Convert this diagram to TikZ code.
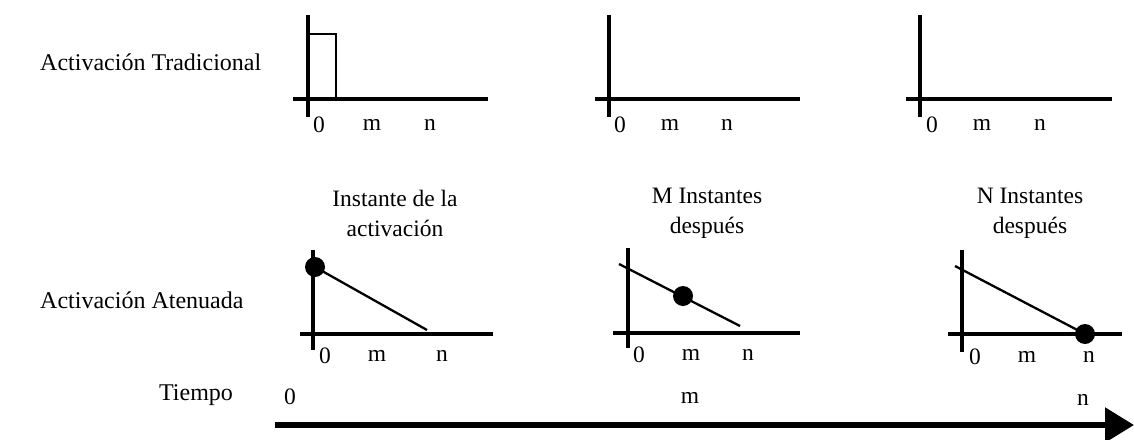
\documentclass[tikz,border=0pt]{standalone}
\usepackage{fontspec}
\setmainfont{Liberation Serif}
\usetikzlibrary{arrows.meta}
\begin{document}
\begin{tikzpicture}[x=1pt,y=-1pt,
  txt/.style={font=\fontsize{24}{28}\selectfont, inner sep=0pt},
  tick/.style={font=\fontsize{23.5}{27}\selectfont, inner sep=0pt},
  axis/.style={line width=3.8pt, line cap=butt},
  slope/.style={line width=2.3pt},
  dot/.style={circle, fill=black, minimum size=20pt, inner sep=0pt},
  ttl/.style={font=\fontsize{23.5}{30}\selectfont, align=center, inner sep=0pt}]
\useasboundingbox (0,0) rectangle (1134,439);
% left labels
\node[txt, anchor=west] (lt) at (40,62) {Activación Tradicional};
\node[txt, anchor=west] (la) at (40,300) {Activación Atenuada};
% top panels
\foreach \i/\vx/\hs/\he/\lz/\lm/\ln in {1/308/293/488/319/372/430, 2/609/595/800/620/670/727, 3/920/906/1112/932/982/1040}{
  \draw[axis] (\vx,15) -- (\vx,117);
  \draw[axis] (\hs,99) -- (\he,99);
  \node[tick] (tz\i) at (\lz,125) {0};
  \node[tick] (tm\i) at (\lm,125) {m};
  \node[tick] (tn\i) at (\ln,125) {n};
}
\draw[line width=1.6pt] (308,34) -- (336,34) -- (336,99);
% titles
\node[ttl] (t1) at (395,213) {Instante de la\\activación};
\node[ttl] (t2) at (707,213) {M Instantes\\después};
\node[ttl] (t3) at (1030,213) {N Instantes\\después};
% bottom panel 1
\draw[axis] (313,250) -- (313,350);
\draw[axis] (300,334) -- (493,334);
\node[dot] (d1) at (315,267) {};
\coordinate (e1) at (427,330);
\draw[slope] (d1.center) -- (e1);
\node[tick] at (325,356) {0};
\node[tick] at (377,356) {m};
\node[tick] at (442,356) {n};
% bottom panel 2
\draw[axis] (628,248) -- (628,348);
\draw[axis] (613,333) -- (800,333);
\coordinate (s2) at (619,264);
\coordinate (e2) at (740,326);
\draw[slope] (s2) -- (e2);
\node[dot] (d2) at (683,296) {};
\node[tick] at (639,355) {0};
\node[tick] at (691,355) {m};
\node[tick] at (748,355) {n};
% bottom panel 3
\draw[axis] (962,250) -- (962,352);
\draw[axis] (948,334) -- (1122,334);
\coordinate (s3) at (955,266);
\node[dot] (d3) at (1085,334) {};
\draw[slope] (s3) -- (d3.center);
\node[tick] at (975,357) {0};
\node[tick] at (1027,357) {m};
\node[tick] at (1089,357) {n};
% time axis
\node[txt] (tiempo) at (196,395) {Tiempo};
\node[tick] (z0) at (290,397) {0};
\node[tick] (zm) at (690,398) {m};
\node[tick] (zn) at (1083,400) {n};
\coordinate (a0) at (275,425);
\coordinate (a1) at (1134,425);
\draw[line width=5.5pt, -{Triangle[length=29pt,width=34pt]}] (a0) -- (a1);
\end{tikzpicture}
\end{document}
